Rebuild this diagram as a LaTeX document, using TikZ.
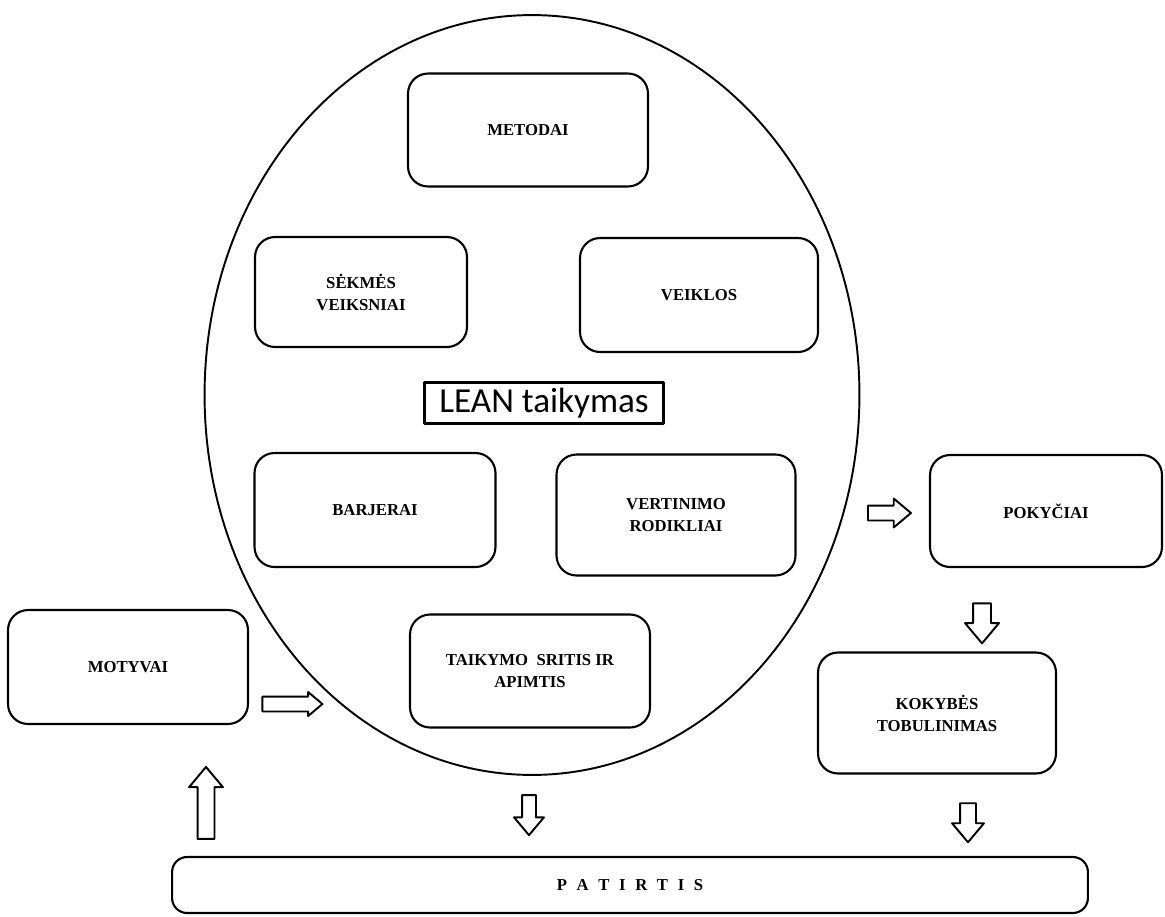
\documentclass[tikz,border=0pt]{standalone}
\usepackage{fontspec}
\setmainfont{Liberation Serif}
\newfontfamily\calibrifont{Carlito}
\usetikzlibrary{shapes.arrows}
\begin{document}
\begin{tikzpicture}[x=.02cm, y=-.02cm, line join=round,
	box/.style={draw, line width=1.2pt, rounded corners=.4cm, align=center, inner sep=2pt,
		font=\fontsize{9.5}{12.5}\selectfont\bfseries},
	blockarrow/.style={draw, line width=1.1pt, single arrow, inner xsep=0pt, single arrow tip angle=80}]
	\useasboundingbox (0,0) rectangle (1165,916);
	\draw[line width=1.1pt] (532,395) ellipse [x radius=6.55cm, y radius=7.6cm];
	% boxes inside the circle
	\node[box, minimum width=4.8cm, minimum height=2.26cm] (metodai) at(528,130){METODAI};
	\node[box, minimum width=4.24cm, minimum height=2.2cm] (sekmes) at(361,292){SĖKMĖS\\VEIKSNIAI};
	\node[box, minimum width=4.76cm, minimum height=2.28cm] (veiklos) at(699,295){VEIKLOS};
	\node[draw, line width=1.2pt, inner sep=0pt, minimum width=4.78cm, minimum height=.82cm,
		font=\calibrifont\fontsize{20}{22}\selectfont] (lean) at(544,403){LEAN taikymas};
	\node[box, minimum width=4.82cm, minimum height=2.28cm] (barjerai) at(375,510){BARJERAI};
	\node[box, minimum width=4.78cm, minimum height=2.42cm] (vertinimo) at(676,515){VERTINIMO\\RODIKLIAI};
	\node[box, minimum width=4.8cm, minimum height=2.26cm] (taikymo) at(530,671){TAIKYMO\ \ SRITIS IR\\APIMTIS};
	% outer boxes
	\node[box, minimum width=4.8cm, minimum height=2.28cm] (motyvai) at(128,667){MOTYVAI};
	\node[box, minimum width=4.64cm, minimum height=2.24cm] (pokyciai) at(1046,511){POKYČIAI};
	\node[box, minimum width=4.76cm, minimum height=2.42cm] (kokybes) at(937,713){KOKYBĖS\\TOBULINIMAS};
	\node[box, rounded corners=.3cm, minimum width=18.32cm, minimum height=1.12cm] (patirtis) at(630,885)
		{P\hspace{5.5pt}A\hspace{5.5pt}T\hspace{5.5pt}I\hspace{5.5pt}R\hspace{5.5pt}T\hspace{5.5pt}I\hspace{5.5pt}S};
	% block arrows
	\node[blockarrow, minimum height=1.2cm, inner ysep=.13cm, single arrow head extend=.09cm] (motyvaiarrow) at(288,704){};
	\node[blockarrow, minimum height=.86cm, inner ysep=.13cm, single arrow head extend=.14cm] (pokyciaiarrow) at(885,513){};
	\node[blockarrow, rotate=-90, minimum height=.8cm, inner ysep=.16cm, single arrow head extend=.16cm] (kokybesarrow) at(982,618){};
	\node[blockarrow, rotate=-90, minimum height=.8cm, inner ysep=.12cm, single arrow head extend=.16cm] (leanarrow) at(529,811){};
	\node[blockarrow, rotate=-90, minimum height=.78cm, inner ysep=.14cm, single arrow head extend=.16cm] (patirtisarrow) at(968,818){};
	\node[blockarrow, rotate=90, minimum height=1.44cm, inner ysep=.15cm, single arrow head extend=.17cm] (motyvaiup) at(206,808){};
\end{tikzpicture}
\end{document}
